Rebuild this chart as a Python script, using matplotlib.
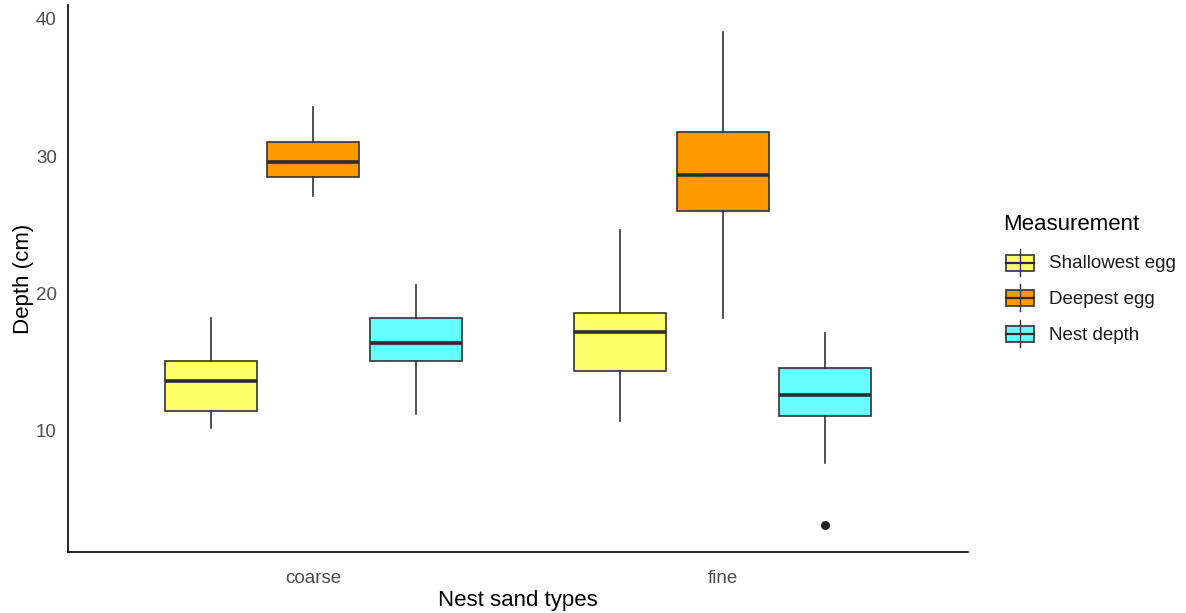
import matplotlib
matplotlib.use("Agg")
import matplotlib.pyplot as plt
from matplotlib.patches import Rectangle
from matplotlib.lines import Line2D

plt.rcParams['font.family'] = ['Liberation Sans', 'DejaVu Sans']

# 数据（从图中读取的箱线图统计量）
sand_types = ["coarse", "fine"]
measurements = ["Shallowest egg", "Deepest egg", "Nest depth"]
colors = ["#FFFF66", "#FF9900", "#66FFFF"]

# 每组: [coarse, fine]
whislo = {"Shallowest egg": [10.2, 10.7], "Deepest egg": [27.1, 18.2], "Nest depth": [11.2, 7.7]}
q1 = {"Shallowest egg": [11.45, 14.35], "Deepest egg": [28.45, 26.0], "Nest depth": [15.1, 11.1]}
med = {"Shallowest egg": [13.6, 17.2], "Deepest egg": [29.6, 28.6], "Nest depth": [16.4, 12.6]}
q3 = {"Shallowest egg": [15.1, 18.55], "Deepest egg": [31.0, 31.75], "Nest depth": [18.25, 14.55]}
whishi = {"Shallowest egg": [18.2, 24.6], "Deepest egg": [33.6, 39.0], "Nest depth": [20.6, 17.15]}
fliers = {"Shallowest egg": [[], []], "Deepest egg": [[], []], "Nest depth": [[], [3.15]]}

W, H = 1186, 613
fig = plt.figure(figsize=(W / 100, H / 100), dpi=100)
ax = fig.add_axes([68 / W, (H - 552) / H, 900 / W, 547 / H])

dodge = 0.25
box_w = 0.225
edge = "#333333"
for j, m in enumerate(measurements):
    stats = []
    for i in range(len(sand_types)):
        stats.append(dict(whislo=whislo[m][i], q1=q1[m][i], med=med[m][i],
                          q3=q3[m][i], whishi=whishi[m][i], fliers=fliers[m][i]))
    pos = [i + 1 + (j - 1) * dodge for i in range(len(sand_types))]
    ax.bxp(stats, positions=pos, widths=box_w, patch_artist=True, showcaps=False,
           boxprops=dict(facecolor=colors[j], edgecolor=edge, linewidth=1.2),
           medianprops=dict(color="#2b2b2b", linewidth=2.6),
           whiskerprops=dict(color=edge, linewidth=1.2),
           flierprops=dict(marker="o", markerfacecolor="#222222", markeredgecolor="#222222",
                           markersize=5.5))

ax.set_xlim(0.4, 2.6)
ax.set_ylim(1.19, 41.0)
ax.set_xticks([1, 2])
ax.set_xticklabels(sand_types)
ax.set_yticks([10, 20, 30, 40])
ax.tick_params(axis="both", length=0, labelsize=13.5, labelcolor="#4D4D4D")
ax.tick_params(axis="x", pad=13)
ax.tick_params(axis="y", pad=8)
for s in ["top", "right"]:
    ax.spines[s].set_visible(False)
for s in ["left", "bottom"]:
    ax.spines[s].set_color("black")
    ax.spines[s].set_linewidth(1.2)
ax.set_xlabel("Nest sand types", fontsize=16, color="black", labelpad=2)
ax.set_ylabel("Depth (cm)", fontsize=16, color="black", labelpad=1)

# 图例
lax = fig.add_axes([0, 0, 1, 1])
lax.set_xlim(0, W)
lax.set_ylim(H, 0)
lax.axis("off")
lax.text(1003, 225, "Measurement", fontsize=16, va="center", ha="left")
key_y = [263, 298, 334]
for m, c, y in zip(measurements, colors, key_y):
    lax.add_line(Line2D([1020, 1020], [y - 14, y + 13], color=edge, lw=1))
    lax.add_patch(Rectangle((1006, y - 8), 28, 16, facecolor=c, edgecolor=edge, lw=1.2))
    lax.add_line(Line2D([1006, 1034], [y, y], color="#2b2b2b", lw=1.6))
    lax.text(1049, y + 1, m, fontsize=13.5, va="center", ha="left", color="#1a1a1a")

fig.savefig("out.png", dpi=100)
